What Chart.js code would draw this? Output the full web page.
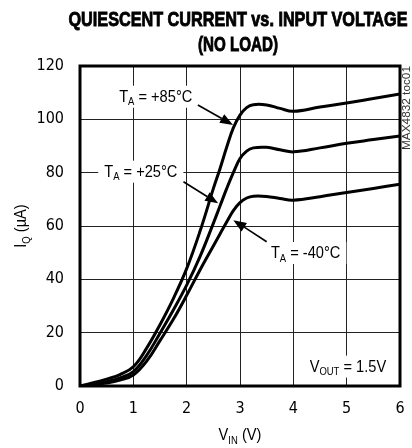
<!DOCTYPE html>
<html>
<head>
<meta charset="utf-8">
<script src="https://cdn.jsdelivr.net/npm/chart.js@4/dist/chart.umd.min.js"></script>
<style>
  html, body { margin: 0; padding: 0; background: #fff; }
  #wrap { width: 412px; height: 448px; }
</style>
</head>
<body>
<div id="wrap"><canvas id="c" width="412" height="448"></canvas></div>
<script>
// ---- data ----
const vin   = [0, 0.25, 0.5, 0.75, 1, 1.25, 1.5, 1.75, 2, 2.25, 2.5, 2.625, 2.75, 2.875, 3, 3.125, 3.25, 3.5, 3.75, 4, 4.5, 5, 5.5, 6];
const iq85  = [0, 1.2, 2.6, 4.3, 7.2, 14.2, 23, 32.8, 44, 58, 74, 81.5, 89.5, 96.8, 101.6, 104.4, 105.5, 105.4, 104.1, 103, 104.6, 106.1, 107.8, 109.5];
const iq25  = [0, 0.7, 1.6, 3.0, 5.4, 11.5, 19.8, 28.5, 37.8, 48.5, 61, 67.5, 74, 80, 85.3, 88.1, 89.3, 89.5, 88.6, 87.8, 89.3, 91, 92.4, 93.8];
const iqM40 = [0, 0.5, 1.1, 2.2, 4.1, 9.3, 17, 25, 34, 43.5, 52.5, 57, 61.5, 65.8, 68.8, 70.5, 71.2, 71.1, 70.3, 69.7, 71, 72.6, 74.1, 75.7];
const yTicks = [0, 20, 40, 60, 80, 100, 120];
const xTicks = [0, 1, 2, 3, 4, 5, 6];

const titleLines = ['QUIESCENT CURRENT vs. INPUT VOLTAGE', '(NO LOAD)'];
const FONT = '"DejaVu Sans Condensed", "Liberation Sans", sans-serif';
const LFONT = '"Liberation Sans", Arial, sans-serif';

// annotation labels: position of text baseline in data units
const notes = [
  { parts: [['T',0],['A',1],[' = +85°C',0]], x: 1.42, y: 106.6, align: 'center', arrow: [2.21, 105.4, 2.87, 97.9] },
  { parts: [['T',0],['A',1],[' = +25°C',0]], x: 1.14, y: 78.5,  align: 'center', arrow: [1.94, 76.6, 2.59, 68.5] },
  { parts: [['T',0],['A',1],[' = -40°C',0]], x: 4.23, y: 48,    align: 'center', arrow: [3.5, 54.1, 2.875, 62.2] },
  { parts: [['V',0],['OUT',1],[' = 1.5V',0]], x: 5.74, y: 5.4,  align: 'right',  arrow: null }
];

function mk(xs, ys) { return xs.map((x, i) => ({ x: x, y: ys[i] })); }

const SX = 0.86;   // horizontal condensing of label text
function partsWidth(ctx, parts, big, small) {
  let w = 0;
  parts.forEach(p => { ctx.font = (p[1] ? small : big) + 'px ' + LFONT; w += ctx.measureText(p[0]).width; });
  return w * SX;
}
function drawParts(ctx, parts, x, y, big, small, align) {
  const w = partsWidth(ctx, parts, big, small);
  let cx = align === 'center' ? x - w / 2 : (align === 'right' ? x - w : x);
  ctx.save();
  ctx.translate(cx, y);
  ctx.scale(SX, 1);
  ctx.textBaseline = 'alphabetic';
  ctx.textAlign = 'left';
  let ox = 0;
  parts.forEach(p => {
    ctx.font = (p[1] ? small : big) + 'px ' + LFONT;
    ctx.fillText(p[0], ox, p[1] ? 3.5 : 0);
    ox += ctx.measureText(p[0]).width;
  });
  ctx.restore();
  return w;
}

const decor = {
  id: 'decor',
  beforeDatasetsDraw(chart) {
    const ctx = chart.ctx, xs = chart.scales.x, ys = chart.scales.y;
    ctx.save();
    ctx.fillStyle = '#fff';
    notes.forEach(n => {
      const px = xs.getPixelForValue(n.x), py = ys.getPixelForValue(n.y);
      const w = partsWidth(ctx, n.parts, 17, 11);
      const left = n.align === 'center' ? px - w / 2 : px - w;
      ctx.fillRect(left - 6, py - 16, w + 12, 22);
    });
    ctx.restore();
  },
  afterDatasetsDraw(chart) {
    const ctx = chart.ctx, a = chart.chartArea;
    const xs = chart.scales.x, ys = chart.scales.y;
    ctx.save();
    ctx.strokeStyle = '#000';
    ctx.lineWidth = 3;
    ctx.strokeRect(a.left, a.top, a.right - a.left, a.bottom - a.top);
    ctx.fillStyle = '#000';
    notes.forEach(n => {
      const px = xs.getPixelForValue(n.x), py = ys.getPixelForValue(n.y);
      drawParts(ctx, n.parts, px, py, 17, 11, n.align);
      if (n.arrow) {
        const x1 = xs.getPixelForValue(n.arrow[0]), y1 = ys.getPixelForValue(n.arrow[1]);
        const x2 = xs.getPixelForValue(n.arrow[2]), y2 = ys.getPixelForValue(n.arrow[3]);
        const ang = Math.atan2(y2 - y1, x2 - x1);
        const hl = 13, hw = 5;
        const bx = x2 - hl * Math.cos(ang), by = y2 - hl * Math.sin(ang);
        ctx.strokeStyle = '#000'; ctx.lineWidth = 1.6;
        ctx.beginPath(); ctx.moveTo(x1, y1); ctx.lineTo(bx, by); ctx.stroke();
        ctx.beginPath();
        ctx.moveTo(x2, y2);
        ctx.lineTo(bx + hw * Math.sin(ang), by - hw * Math.cos(ang));
        ctx.lineTo(bx - hw * Math.sin(ang), by + hw * Math.cos(ang));
        ctx.closePath(); ctx.fill();
      }
    });
    ctx.restore();
  },
  afterDraw(chart) {
    const ctx = chart.ctx, a = chart.chartArea;
    ctx.save();
    ctx.fillStyle = '#000';
    ctx.strokeStyle = '#000';
    ctx.lineWidth = 0.9;
    ctx.font = 'bold 21px ' + LFONT;
    ctx.textBaseline = 'alphabetic';
    ctx.textAlign = 'center';
    const targetW = [339, 80];
    const baseY = [26, 51];
    titleLines.forEach((t, i) => {
      const m = ctx.measureText(t).width;
      ctx.save();
      ctx.translate(238, baseY[i]);
      ctx.scale(targetW[i] / m, 1.0);
      ctx.fillText(t, 0, 0);
      ctx.strokeText(t, 0, 0);
      ctx.restore();
    });
    drawParts(ctx, [['V',0],['IN',1],[' (V)',0]], (a.left + a.right) / 2, 440, 17, 11, 'center');
    ctx.save();
    ctx.translate(26, (a.top + a.bottom) / 2);
    ctx.rotate(-Math.PI / 2);
    drawParts(ctx, [['I',0],['Q',1],[' (µA)',0]], 0, 0, 17, 11, 'center');
    ctx.restore();
    ctx.save();
    ctx.translate(a.right + 10, a.top);
    ctx.rotate(-Math.PI / 2);
    ctx.font = '11px ' + LFONT;
    const tw = ctx.measureText('MAX4832 toc01').width;
    ctx.scale(84 / tw, 1);
    ctx.fillStyle = '#333';
    ctx.textAlign = 'right';
    ctx.textBaseline = 'alphabetic';
    ctx.fillText('MAX4832 toc01', 0, 0);
    ctx.restore();
    ctx.restore();
  }
};

const lineDs = (label, ys) => ({
  label: label, data: mk(vin, ys), borderColor: '#000', borderWidth: 3,
  pointRadius: 0, fill: false, tension: 0.4
});

new Chart(document.getElementById('c'), {
  type: 'line',
  data: { datasets: [ lineDs('+85°C', iq85), lineDs('+25°C', iq25), lineDs('-40°C', iqM40) ] },
  options: {
    responsive: false, animation: false, devicePixelRatio: 1,
    layout: { padding: { left: 0, right: 12, top: 66, bottom: 0 } },
    plugins: { legend: { display: false }, tooltip: { enabled: false }, title: { display: false } },
    scales: {
      x: {
        type: 'linear', min: 0, max: 6,
        afterFit(s) { s.height = 62; s.paddingLeft = 0; s.paddingRight = 0; },
        afterBuildTicks(s) { s.ticks = xTicks.map(v => ({ value: v })); },
        grid: { color: '#222', lineWidth: 1, drawTicks: false },
        border: { display: false },
        ticks: { padding: 13, color: '#000', font: { family: FONT, size: 16 } }
      },
      y: {
        type: 'linear', min: 0, max: 120,
        afterFit(s) { s.width = 80; s.paddingTop = 0; s.paddingBottom = 0; },
        afterBuildTicks(s) { s.ticks = yTicks.map(v => ({ value: v })); },
        grid: { color: '#222', lineWidth: 1, drawTicks: false },
        border: { display: false },
        ticks: { padding: 16, color: '#000', font: { family: FONT, size: 16 } }
      }
    }
  },
  plugins: [decor]
});
</script>
</body>
</html>
